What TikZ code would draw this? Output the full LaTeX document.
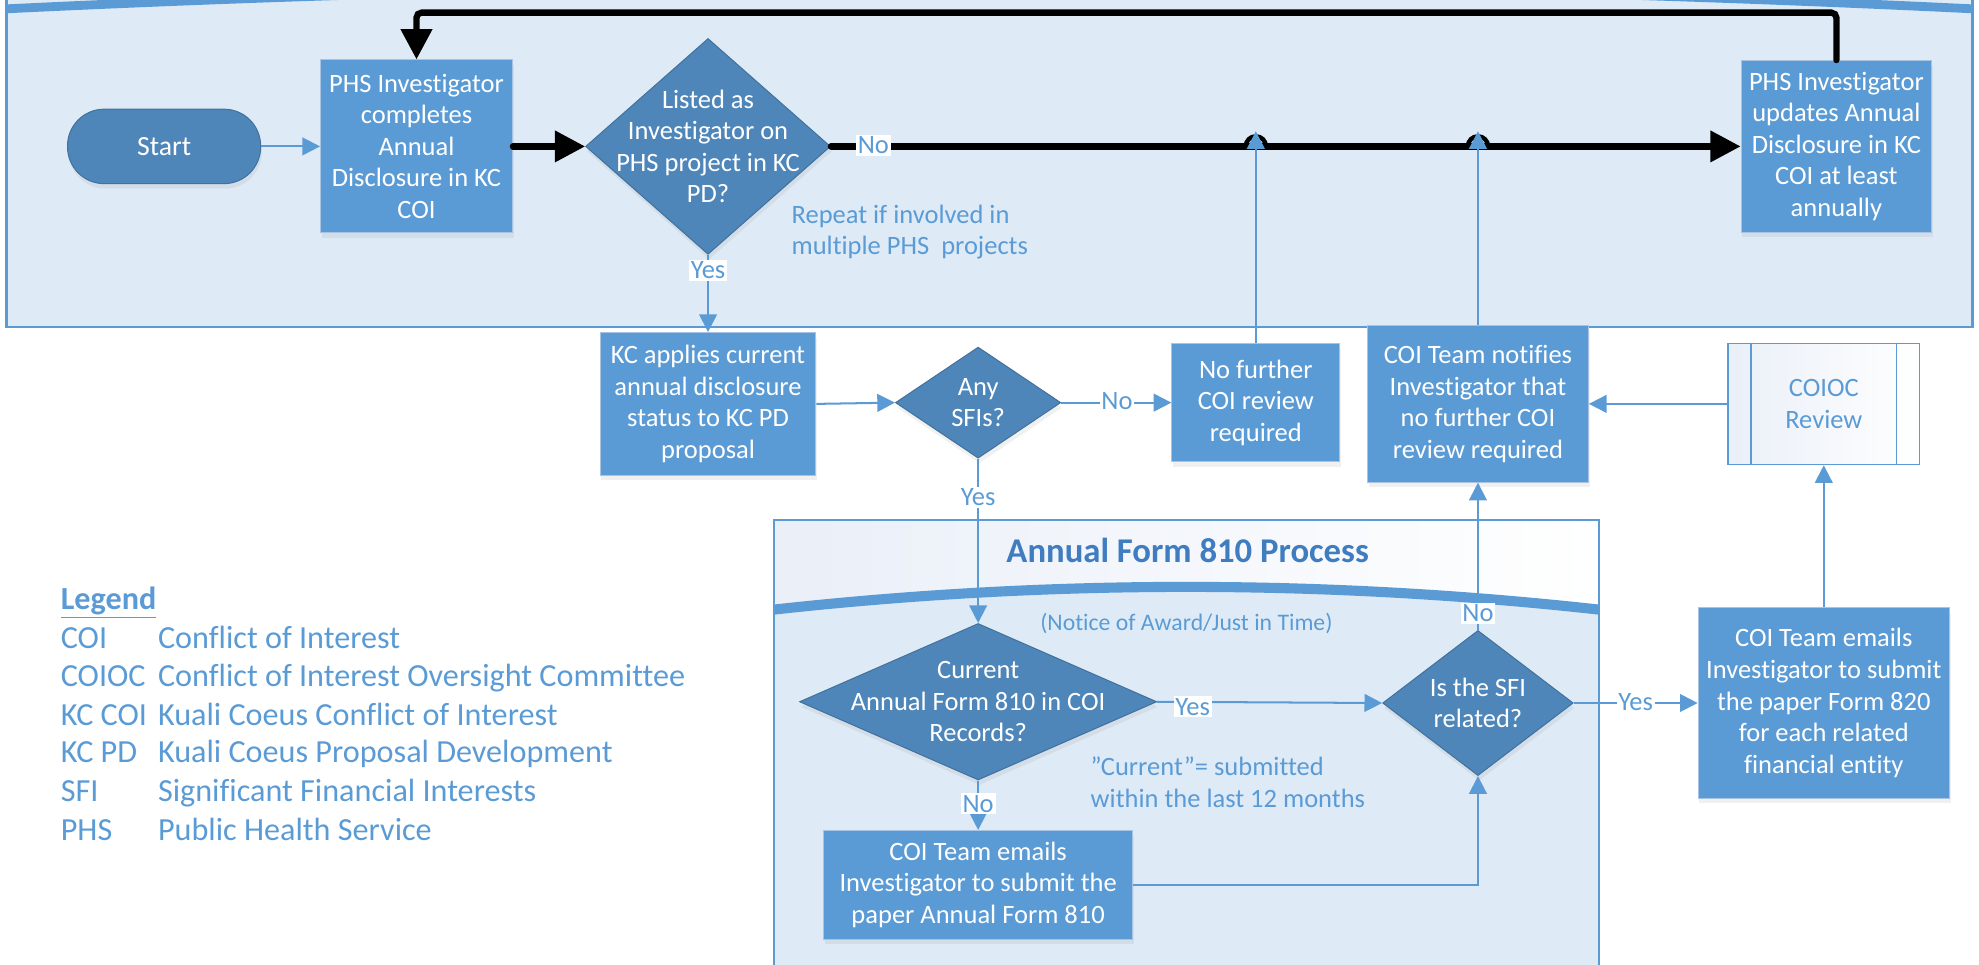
\documentclass[tikz,border=0pt]{standalone}
\usepackage{fontspec}
\setmainfont{Carlito}[Ligatures={NoCommon,TeX}]
\usetikzlibrary{arrows.meta,shapes.geometric,shadows,calc}
\definecolor{lane}{HTML}{DEEBF7}
\definecolor{bblue}{HTML}{5B9BD5}
\definecolor{dblue}{HTML}{4E86BA}
\definecolor{dedge}{HTML}{41719C}
\definecolor{bedge}{HTML}{A9C3E2}
\definecolor{ttl}{HTML}{3F7CC0}
\definecolor{hdr}{HTML}{EAEFF8}
\tikzset{
 shd/.style={drop shadow={shadow xshift=1pt, shadow yshift=-4pt, opacity=0.12}},
 proc/.style={rectangle, fill=bblue, draw=bedge, line width=0.8pt, text=white, align=center,
   font=\fontsize{21}{25}\selectfont, inner sep=0pt, shd},
 dia/.style={diamond, fill=dblue, draw=dedge, line width=0.8pt, inner sep=0pt, shd},
 dtext/.style={text=white, align=center, font=\fontsize{21}{25}\selectfont, inner sep=0pt},
 term/.style={rectangle, rounded corners=29pt, fill=dblue, draw=dedge, line width=0.8pt, text=white,
   font=\fontsize{22}{25}\selectfont, inner sep=0pt, shd},
 sub/.style={rectangle, left color=hdr, right color=white, draw=bblue, line width=1.2pt, text=bblue,
   align=center, font=\fontsize{21}{25}\selectfont, inner sep=0pt},
 conn/.style={draw=bblue, line width=1.6pt, -{Triangle[length=14pt,width=14pt]}},
 blk/.style={draw=black, line width=5pt, line cap=round, -{Triangle[length=24pt,width=24pt]}},
 lbl/.style={fill=white, text=bblue, inner sep=1.5pt, font=\fontsize{21}{25}\selectfont},
 note/.style={text=bblue, align=left, font=\fontsize{21}{25}\selectfont, inner sep=0pt},
 leg/.style={text=bblue, font=\fontsize{25.5}{30}\selectfont, inner sep=0pt, anchor=base west},
}
\begin{document}
\begin{tikzpicture}[x=1pt,y=-1pt]
\useasboundingbox (0,0) rectangle (1568,764);
\clip (0,0) rectangle (1568,764);
% top swimlane
\fill[lane] (5,-40) rectangle (1563,259);
\draw[bblue, line width=2pt] (5,-40) -- (5,259) -- (1563,259) -- (1563,-40);
\draw[bblue, line width=7pt] (5,7) .. controls (524,-18) and (1044,-18) .. (1563,7);
% Annual Form 810 container
\fill[left color=hdr, right color=white] (613,412) rectangle (1267,780);
\fill[lane] (613,483) .. controls (831,459) and (1049,459) .. (1267,483) -- (1267,780) -- (613,780) -- cycle;
\draw[bblue, line width=8pt] (613,483) .. controls (831,459) and (1049,459) .. (1267,483);
\draw[bblue, line width=1.3pt] (613,780) -- (613,412) -- (1267,412) -- (1267,780);
\node[text=ttl, font=\fontsize{27.5}{30}\selectfont\bfseries] (ttl) at (941,436) {Annual Form 810 Process};

% nodes
\node[term, minimum width=153pt, minimum height=59pt] (start) at (130,116) {Start};
\node[proc, minimum width=152pt, minimum height=137pt] (b1) at (330,116)
  {PHS Investigator\\completes\\Annual\\Disclosure in KC\\COI};
\node[dia, minimum width=194pt, minimum height=171pt,
  label={[dtext]center:{Listed as\\Investigator on\\PHS project in KC\\PD?}}] (d1) at (561,116) {};
\node[proc, minimum width=151pt, minimum height=136pt] (upd) at (1455,116)
  {PHS Investigator\\updates Annual\\Disclosure in KC\\COI at least\\annually};
\node[proc, minimum width=171pt, minimum height=113pt] (kc) at (561,320)
  {KC applies current\\annual disclosure\\status to KC PD\\proposal};
\node[dia, minimum width=131pt, minimum height=88pt,
  label={[dtext]center:{Any\\SFIs?}}] (sfi) at (775,319) {};
\node[proc, minimum width=133pt, minimum height=94pt] (nof) at (995,319)
  {No further\\COI review\\required};
\node[proc, minimum width=175pt, minimum height=124pt] (ntf) at (1171,320)
  {COI Team notifies\\Investigator that\\no further COI\\review required};
\node[sub, minimum width=152pt, minimum height=96pt] (coioc) at (1445,320) {COIOC\\Review};
\draw[bblue, line width=1.2pt] ([xshift=19pt]coioc.north west) -- ([xshift=19pt]coioc.south west);
\draw[bblue, line width=1.2pt] ([xshift=-19pt]coioc.north east) -- ([xshift=-19pt]coioc.south east);
\node[dia, minimum width=283pt, minimum height=124pt,
  label={[dtext]center:{Current\\Annual Form 810 in COI\\Records?}}] (cur) at (775,556) {};
\node[dia, minimum width=151pt, minimum height=115pt,
  label={[dtext]center:{Is the SFI\\related?}}] (rel) at (1171,557) {};
\node[proc, minimum width=245pt, minimum height=86pt] (em) at (775,701)
  {COI Team emails\\Investigator to submit the\\paper Annual Form 810};
\node[proc, minimum width=199pt, minimum height=151pt] (f820) at (1445,557)
  {COI Team emails\\Investigator to submit\\the paper Form 820\\for each related\\financial entity};

% notes
\node[note, anchor=west] (rep) at (627,184) {Repeat if involved in\\multiple PHS\ \ projects};
\node[text=bblue, font=\fontsize{18.8}{22}\selectfont, inner sep=0pt] (noa) at (940,494) {(Notice of Award/Just in Time)};
\node[note, anchor=west] (curnote) at (864,620) {”Current”= submitted\\within the last 12 months};

% black flow
\coordinate (rtop) at (1455,10);
\coordinate (ltop) at (330,10);
\draw[blk] (b1.east) -- (d1.west);
\draw[blk] (d1.east) -- (upd.west);
\draw[blk, rounded corners=4pt] (upd.north) -- (rtop) -- (ltop) -- (b1.north);
\node[lbl] (no1) at (692,115) {No};
\draw[black, line width=3.5pt] (987,116) arc[start angle=180, end angle=360, radius=8];
\draw[black, line width=3.5pt] (1163,116) arc[start angle=180, end angle=360, radius=8];

% blue connectors
\coordinate (hopA) at (995,104);
\coordinate (hopB) at (1171,104);
\draw[conn] (start.east) -- (b1.west);
\draw[conn] (d1.south) -- (kc.north);
\node[lbl] (yes1) at (561,214) {Yes};
\draw[conn] (kc.east) -- (sfi.west);
\draw[conn] (sfi.east) -- (nof.west);
\node[lbl] (no2) at (885,318) {No};
\draw[conn] (nof.north) -- (hopA);
\draw[conn] (ntf.north) -- (hopB);
\draw[conn] (sfi.south) -- (cur.north);
\node[lbl] (yes2) at (775,394) {Yes};
\draw[conn] (cur.east) -- (rel.west);
\node[lbl] (yes3) at (945,560) {Yes};
\draw[conn] (cur.south) -- (em.north);
\node[lbl] (no3) at (775,637) {No};
\draw[conn] (em.east) -| (rel.south);
\draw[conn] (rel.north) -- (ntf.south);
\node[lbl] (no4) at (1171,486) {No};
\draw[conn] (rel.east) -- (f820.west);
\node[lbl] (yes4) at (1296,556) {Yes};
\draw[conn] (f820.north) -- (coioc.south);
\draw[conn] (coioc.west) -- (ntf.east);

% legend
\node[leg] (lgd) at (48,483) {\textbf{\underline{Legend}}};
\node[leg] (a1) at (48,514) {COI};
\node[leg] (d1t) at (125,514) {Conflict of Interest};
\node[leg] (a2) at (48,544) {COIOC};
\node[leg] (d2t) at (125,544) {Conflict of Interest Oversight Committee};
\node[leg] (a3) at (48,575) {KC COI};
\node[leg] (d3t) at (125,575) {Kuali Coeus Conflict of Interest};
\node[leg] (a4) at (48,604) {KC PD};
\node[leg] (d4t) at (125,604) {Kuali Coeus Proposal Development};
\node[leg] (a5) at (48,635) {SFI};
\node[leg] (d5t) at (125,635) {Significant Financial Interests};
\node[leg] (a6) at (48,666) {PHS};
\node[leg] (d6t) at (125,666) {Public Health Service};
\end{tikzpicture}
\end{document}
